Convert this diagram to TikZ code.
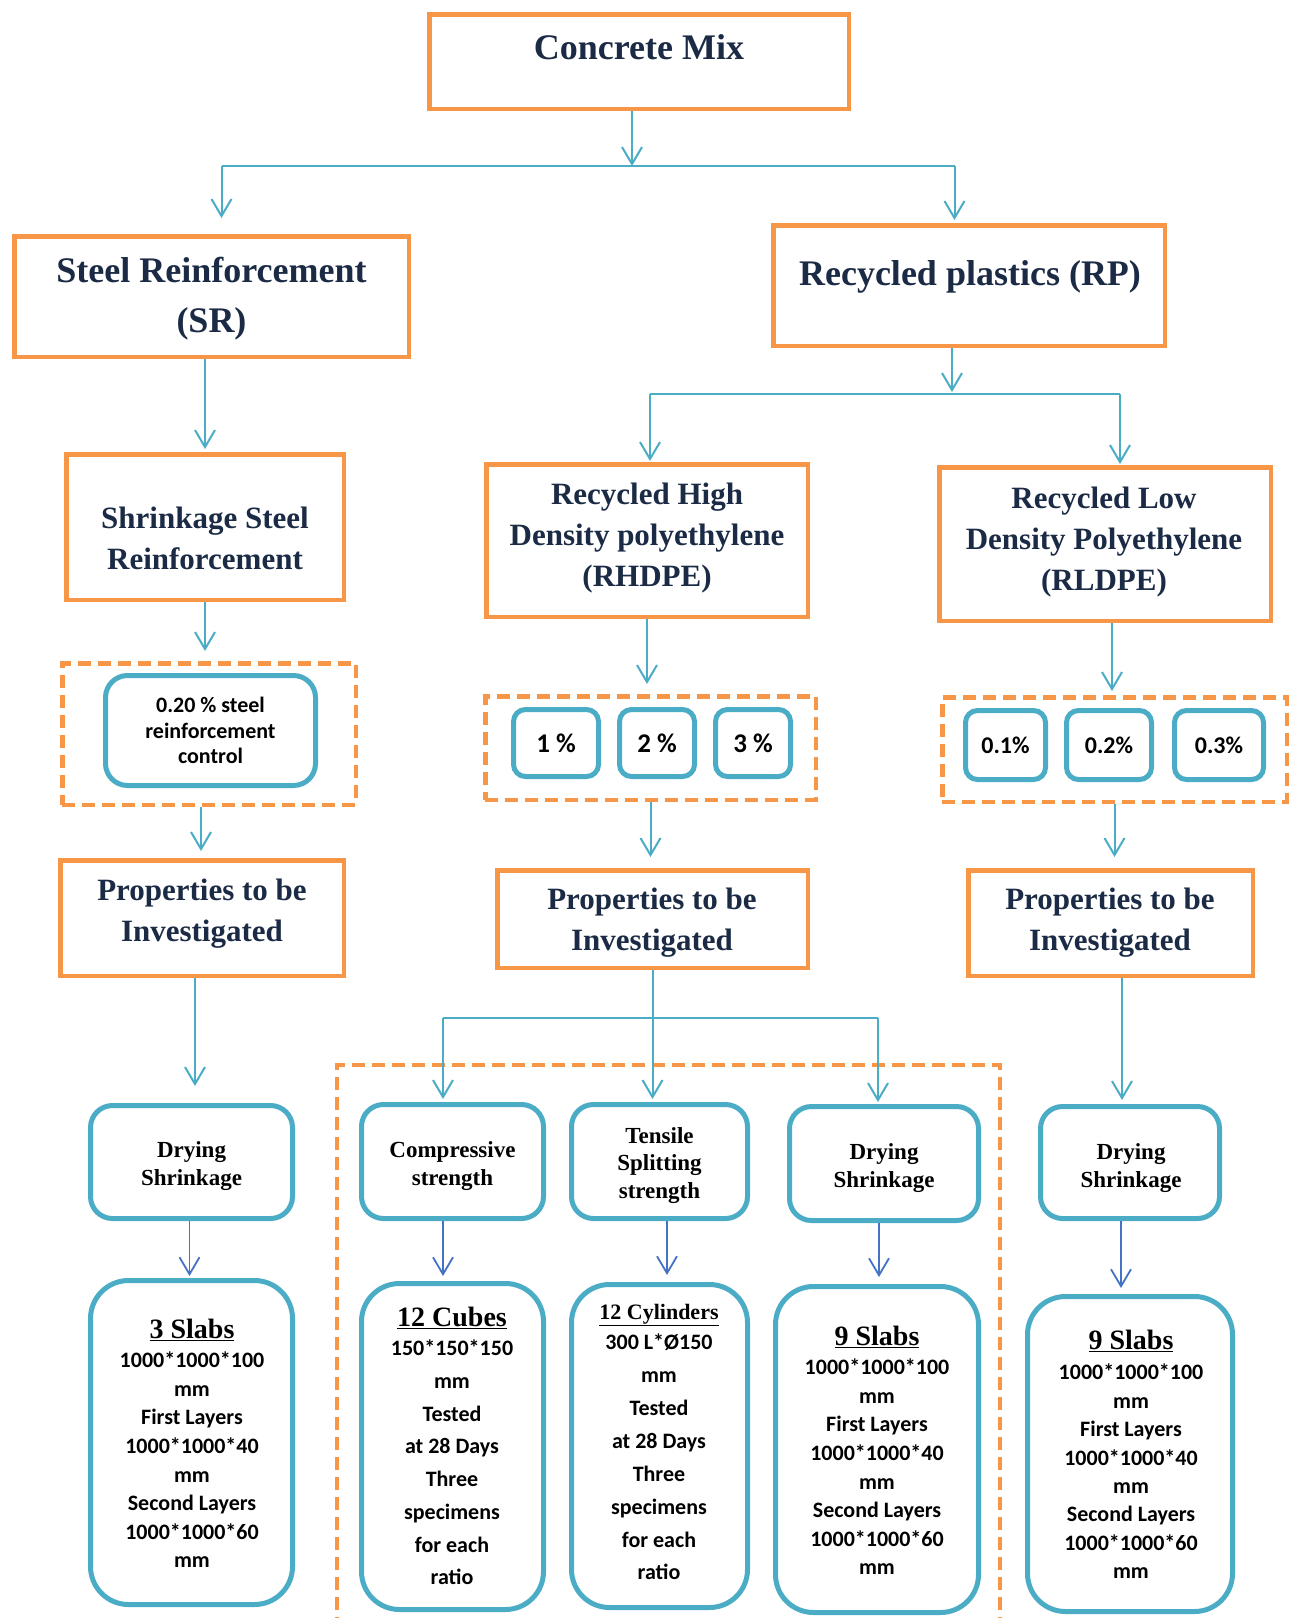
\documentclass[tikz,border=0pt]{standalone}
\usepackage{fontspec}
\setmainfont{Liberation Serif}
\newfontfamily\calfont{Carlito}
\usetikzlibrary{arrows.meta}
\definecolor{orng}{HTML}{F79646}
\definecolor{aqua}{HTML}{4BACC6}
\definecolor{dblue}{HTML}{4472C4}
\definecolor{navy}{HTML}{1C2B45}
\tikzset{
 obox/.style={draw=orng, line width=4.5pt, rectangle, inner sep=0pt},
 dbox/.style={draw=orng, line width=4.5pt, dash pattern=on 13pt off 7pt, rectangle, inner sep=0pt},
 bbox/.style={draw=aqua, line width=5pt, rectangle, rounded corners=#1, inner sep=0pt},
 bbox/.default=22pt,
 ht/.style={font=\fontsize{36}{50}\selectfont\bfseries, text=navy, align=center, inner sep=0pt},
 mt/.style={font=\fontsize{31}{41}\selectfont\bfseries, text=navy, align=center, inner sep=0pt},
 st/.style={font=\fontsize{23}{28}\selectfont\bfseries, text=black, align=center, inner sep=0pt},
 tt/.style={font=\fontsize{28}{30}\selectfont\bfseries, text=black, align=center, inner sep=0pt},
 ct/.style={font=\calfont\bfseries\fontsize{22}{28.6}\selectfont, text=black, align=center, inner sep=0pt},
 arr/.style={draw=aqua, line width=2pt, -{Straight Barb[length=17pt,width=20pt]}},
 darr/.style={draw=dblue, line width=1.8pt, -{Straight Barb[length=17pt,width=20pt]}},
 branch/.style={draw=aqua, line width=2.8pt},
}
\begin{document}
\begin{tikzpicture}[x=1pt,y=-1pt]
\useasboundingbox (0,0) rectangle (1296,1618);
\fill[white] (0,0) rectangle (1296,1618);

% ---------- orange boxes ----------
\node[obox, minimum width=419.5pt, minimum height=94.5pt] (cm) at (639,61.5) {};
\node[obox, minimum width=394.5pt, minimum height=120.5pt] (sr) at (211.5,296.5) {};
\node[obox, minimum width=391.5pt, minimum height=120.5pt] (rp) at (969,285.5) {};
\node[obox, minimum width=277.5pt, minimum height=145.5pt] (ss) at (205,527) {};
\node[obox, minimum width=321.5pt, minimum height=152.5pt] (hd) at (647,540.5) {};
\node[obox, minimum width=331.5pt, minimum height=153.5pt] (ld) at (1105,544) {};
\node[obox, minimum width=283.5pt, minimum height=115.5pt] (p1) at (202,918) {};
\node[obox, minimum width=310.5pt, minimum height=97.5pt] (p2) at (652.5,919) {};
\node[obox, minimum width=284.5pt, minimum height=105.5pt] (p3) at (1110.5,923) {};

% ---------- heading texts ----------
\node[ht] (cmt) at (639,47) {Concrete Mix};
\node[ht] (srt) at (211.5,299) {Steel Reinforcement\\(SR)};
\node[ht] (rpt) at (970,277) {Recycled plastics (RP)};
\node[mt] (sst) at (205,538) {Shrinkage Steel\\Reinforcement};
\node[mt] (hdt) at (647,538.5) {Recycled High\\Density polyethylene\\(RHDPE)};
\node[mt] (ldt) at (1104,542.5) {Recycled Low\\Density Polyethylene\\(RLDPE)};
\node[mt] (p1t) at (202,913.5) {Properties to be\\Investigated};
\node[mt] (p2t) at (652,922.5) {Properties to be\\Investigated};
\node[mt] (p3t) at (1110,922.5) {Properties to be\\Investigated};

% ---------- dashed groups ----------
\node[dbox, minimum width=293.5pt, minimum height=141.5pt] (d1) at (209,734) {};
\node[dbox, minimum width=330.5pt, minimum height=103.5pt] (d2) at (650.5,748) {};
\node[dbox, minimum width=344.5pt, minimum height=104.5pt] (d3) at (1114.5,749.5) {};
\draw[orng, line width=4.5pt, dash pattern=on 13pt off 7pt] (337,1630) -- (337,1065) -- (1000,1065) -- (1000,1630);

% ---------- blue boxes in dashed groups ----------
\node[bbox=22pt, minimum width=210pt, minimum height=110pt, ct, font=\calfont\bfseries\fontsize{22}{25.5}\selectfont] (c20) at (210.5,730.5) {0.20 \% steel\\reinforcement\\control};
\node[bbox=12pt, minimum width=85pt, minimum height=67pt, ct, font=\calfont\bfseries\fontsize{27}{30}\selectfont] (q1) at (556,743) {1 \%};
\node[bbox=12pt, minimum width=75pt, minimum height=67pt, ct, font=\calfont\bfseries\fontsize{27}{30}\selectfont] (q2) at (657,743) {2 \%};
\node[bbox=12pt, minimum width=75pt, minimum height=67pt, ct, font=\calfont\bfseries\fontsize{27}{30}\selectfont] (q3) at (753,743) {3 \%};
\node[bbox=12pt, minimum width=80pt, minimum height=69pt, ct, font=\calfont\bfseries\fontsize{24}{28}\selectfont] (r1) at (1005.5,745) {0.1\%};
\node[bbox=12pt, minimum width=85pt, minimum height=69pt, ct, font=\calfont\bfseries\fontsize{24}{28}\selectfont] (r2) at (1109,745) {0.2\%};
\node[bbox=12pt, minimum width=89pt, minimum height=69pt, ct, font=\calfont\bfseries\fontsize{24}{28}\selectfont] (r3) at (1219,745) {0.3\%};

% ---------- bottom blue boxes ----------
\node[bbox=22pt, minimum width=202pt, minimum height=113pt] (dry1) at (191.5,1162) {};
\node[bbox=38pt, minimum width=202pt, minimum height=324pt] (slab1) at (191.5,1442.5) {};
\node[bbox=22pt, minimum width=182pt, minimum height=114pt] (comp) at (452.5,1161.5) {};
\node[bbox=38pt, minimum width=182pt, minimum height=326pt] (cubes) at (452.5,1446.5) {};
\node[bbox=22pt, minimum width=176pt, minimum height=114pt] (ten) at (659.5,1161.5) {};
\node[bbox=38pt, minimum width=176pt, minimum height=323pt] (cyl) at (659.5,1446) {};
\node[bbox=22pt, minimum width=189pt, minimum height=114pt] (dry2) at (884,1163.5) {};
\node[bbox=38pt, minimum width=203pt, minimum height=326pt] (slab2) at (877,1449.5) {};
\node[bbox=22pt, minimum width=179pt, minimum height=112pt] (dry3) at (1130,1162.5) {};
\node[bbox=38pt, minimum width=205pt, minimum height=315pt] (slab3) at (1130,1454) {};

% ---------- bottom texts ----------
\node[st] (dry1t) at (191.5,1166) {Drying\\Shrinkage};
\node[st] (compt) at (452.5,1166) {Compressive\\strength};
\node[st, font=\fontsize{23}{27.5}\selectfont\bfseries] (tent) at (659.5,1165.5) {Tensile\\Splitting\\strength};
\node[st] (dry2t) at (884,1168) {Drying\\Shrinkage};
\node[st] (dry3t) at (1131,1168) {Drying\\Shrinkage};

\node[tt] (s1h) at (192,1330) {\underline{3 Slabs}};
\node[ct] (s1b) at (192,1460) {1000*1000*100\\mm\\First Layers\\1000*1000*40\\mm\\Second Layers\\1000*1000*60\\mm};
\node[tt] (cuh) at (452,1318) {\underline{12 Cubes}};
\node[ct, font=\calfont\bfseries\fontsize{22}{32.7}\selectfont] (cub) at (452,1462.5) {150*150*150\\mm\\Tested\\at 28 Days\\Three\\specimens\\for each\\ratio};
\node[tt, font=\fontsize{22}{24}\selectfont\bfseries] (cyh) at (659,1315) {\underline{12 Cylinders}};
\node[ct, font=\calfont\bfseries\fontsize{22}{32.9}\selectfont] (cyb) at (659,1457) {300 L*Ø150\\mm\\Tested\\at 28 Days\\Three\\specimens\\for each\\ratio};
\node[tt] (s2h) at (877,1337) {\underline{9 Slabs}};
\node[ct] (s2b) at (877,1467) {1000*1000*100\\mm\\First Layers\\1000*1000*40\\mm\\Second Layers\\1000*1000*60\\mm};
\node[tt] (s3h) at (1131,1341) {\underline{9 Slabs}};
\node[ct, font=\calfont\bfseries\fontsize{22}{28.4}\selectfont] (s3b) at (1131,1471.5) {1000*1000*100\\mm\\First Layers\\1000*1000*40\\mm\\Second Layers\\1000*1000*60\\mm};

% ---------- connectors ----------
\coordinate (j1) at (632,166);
\coordinate (j1l) at (221.5,166);
\coordinate (j1r) at (954.5,166);
\draw[arr] (cm.south -| j1) -- (j1);
\draw[branch] (j1l) -- (j1r);
\draw[arr, shorten >=16pt] (j1l) -- (j1l |- sr.north);
\draw[arr, shorten >=3pt] (j1r) -- (j1r |- rp.north);

\coordinate (j2) at (952,392);
\coordinate (j2l) at (650,394);
\coordinate (j2r) at (1120,394);
\draw[arr] (rp.south -| j2) -- (j2);
\draw[branch] (j2l) -- (j2r);
\draw[arr, shorten >=1pt] (j2l) -- (j2l |- hd.north);
\draw[arr, shorten >=1pt] (j2r) -- (j2r |- ld.north);

\draw[arr, shorten >=3pt] (sr.south -| ss.north) -- (ss.north);
\draw[arr, shorten >=10pt] (ss.south) -- (ss.south |- d1.north);
\draw[arr, shorten >=10pt] (hd.south) -- (hd.south |- d2.north);
\draw[arr, shorten >=4pt] ([xshift=7pt]ld.south) -- ([xshift=7pt]ld.south |- d3.north);

\draw[arr, shorten >=7pt] ([xshift=-8pt]d1.south) -- ([xshift=-8pt]d1.south |- p1.north);
\draw[arr, shorten >=11pt] (d2.south) -- (d2.south |- p2.north);
\draw[arr, shorten >=11pt] (d3.south) -- (d3.south |- p3.north);

\draw[arr, shorten >=17pt] ([xshift=-7pt]p1.south) -- ([xshift=-7pt]p1.south |- dry1.north);
\draw[arr, shorten >=3pt] (p2.south) -- (p2.south |- ten.north);
\coordinate (j3l) at (443,1018);
\coordinate (j3r) at (878,1018);
\draw[branch] (j3l) -- (j3r);
\draw[arr, shorten >=3pt] (j3l) -- (j3l |- comp.north);
\draw[arr, shorten >=2pt] (j3r) -- (j3r |- dry2.north);
\draw[arr, shorten >=4pt] ([xshift=11.5pt]p3.south) -- ([xshift=11.5pt]p3.south |- dry3.north);

\draw[darr, shorten >=2pt] ([xshift=-2pt]dry1.south) -- ([xshift=-2pt]dry1.south |- slab1.north);
\draw[darr, shorten >=5pt] ([xshift=-9.5pt]comp.south) -- ([xshift=-9.5pt]comp.south |- cubes.north);
\draw[darr, shorten >=7pt] ([xshift=7.5pt]ten.south) -- ([xshift=7.5pt]ten.south |- cyl.north);
\draw[darr, shorten >=7pt] ([xshift=-5pt]dry2.south) -- ([xshift=-5pt]dry2.south |- slab2.north);
\draw[darr, shorten >=6pt] ([xshift=-9pt]dry3.south) -- ([xshift=-9pt]dry3.south |- slab3.north);
\end{tikzpicture}
\end{document}
